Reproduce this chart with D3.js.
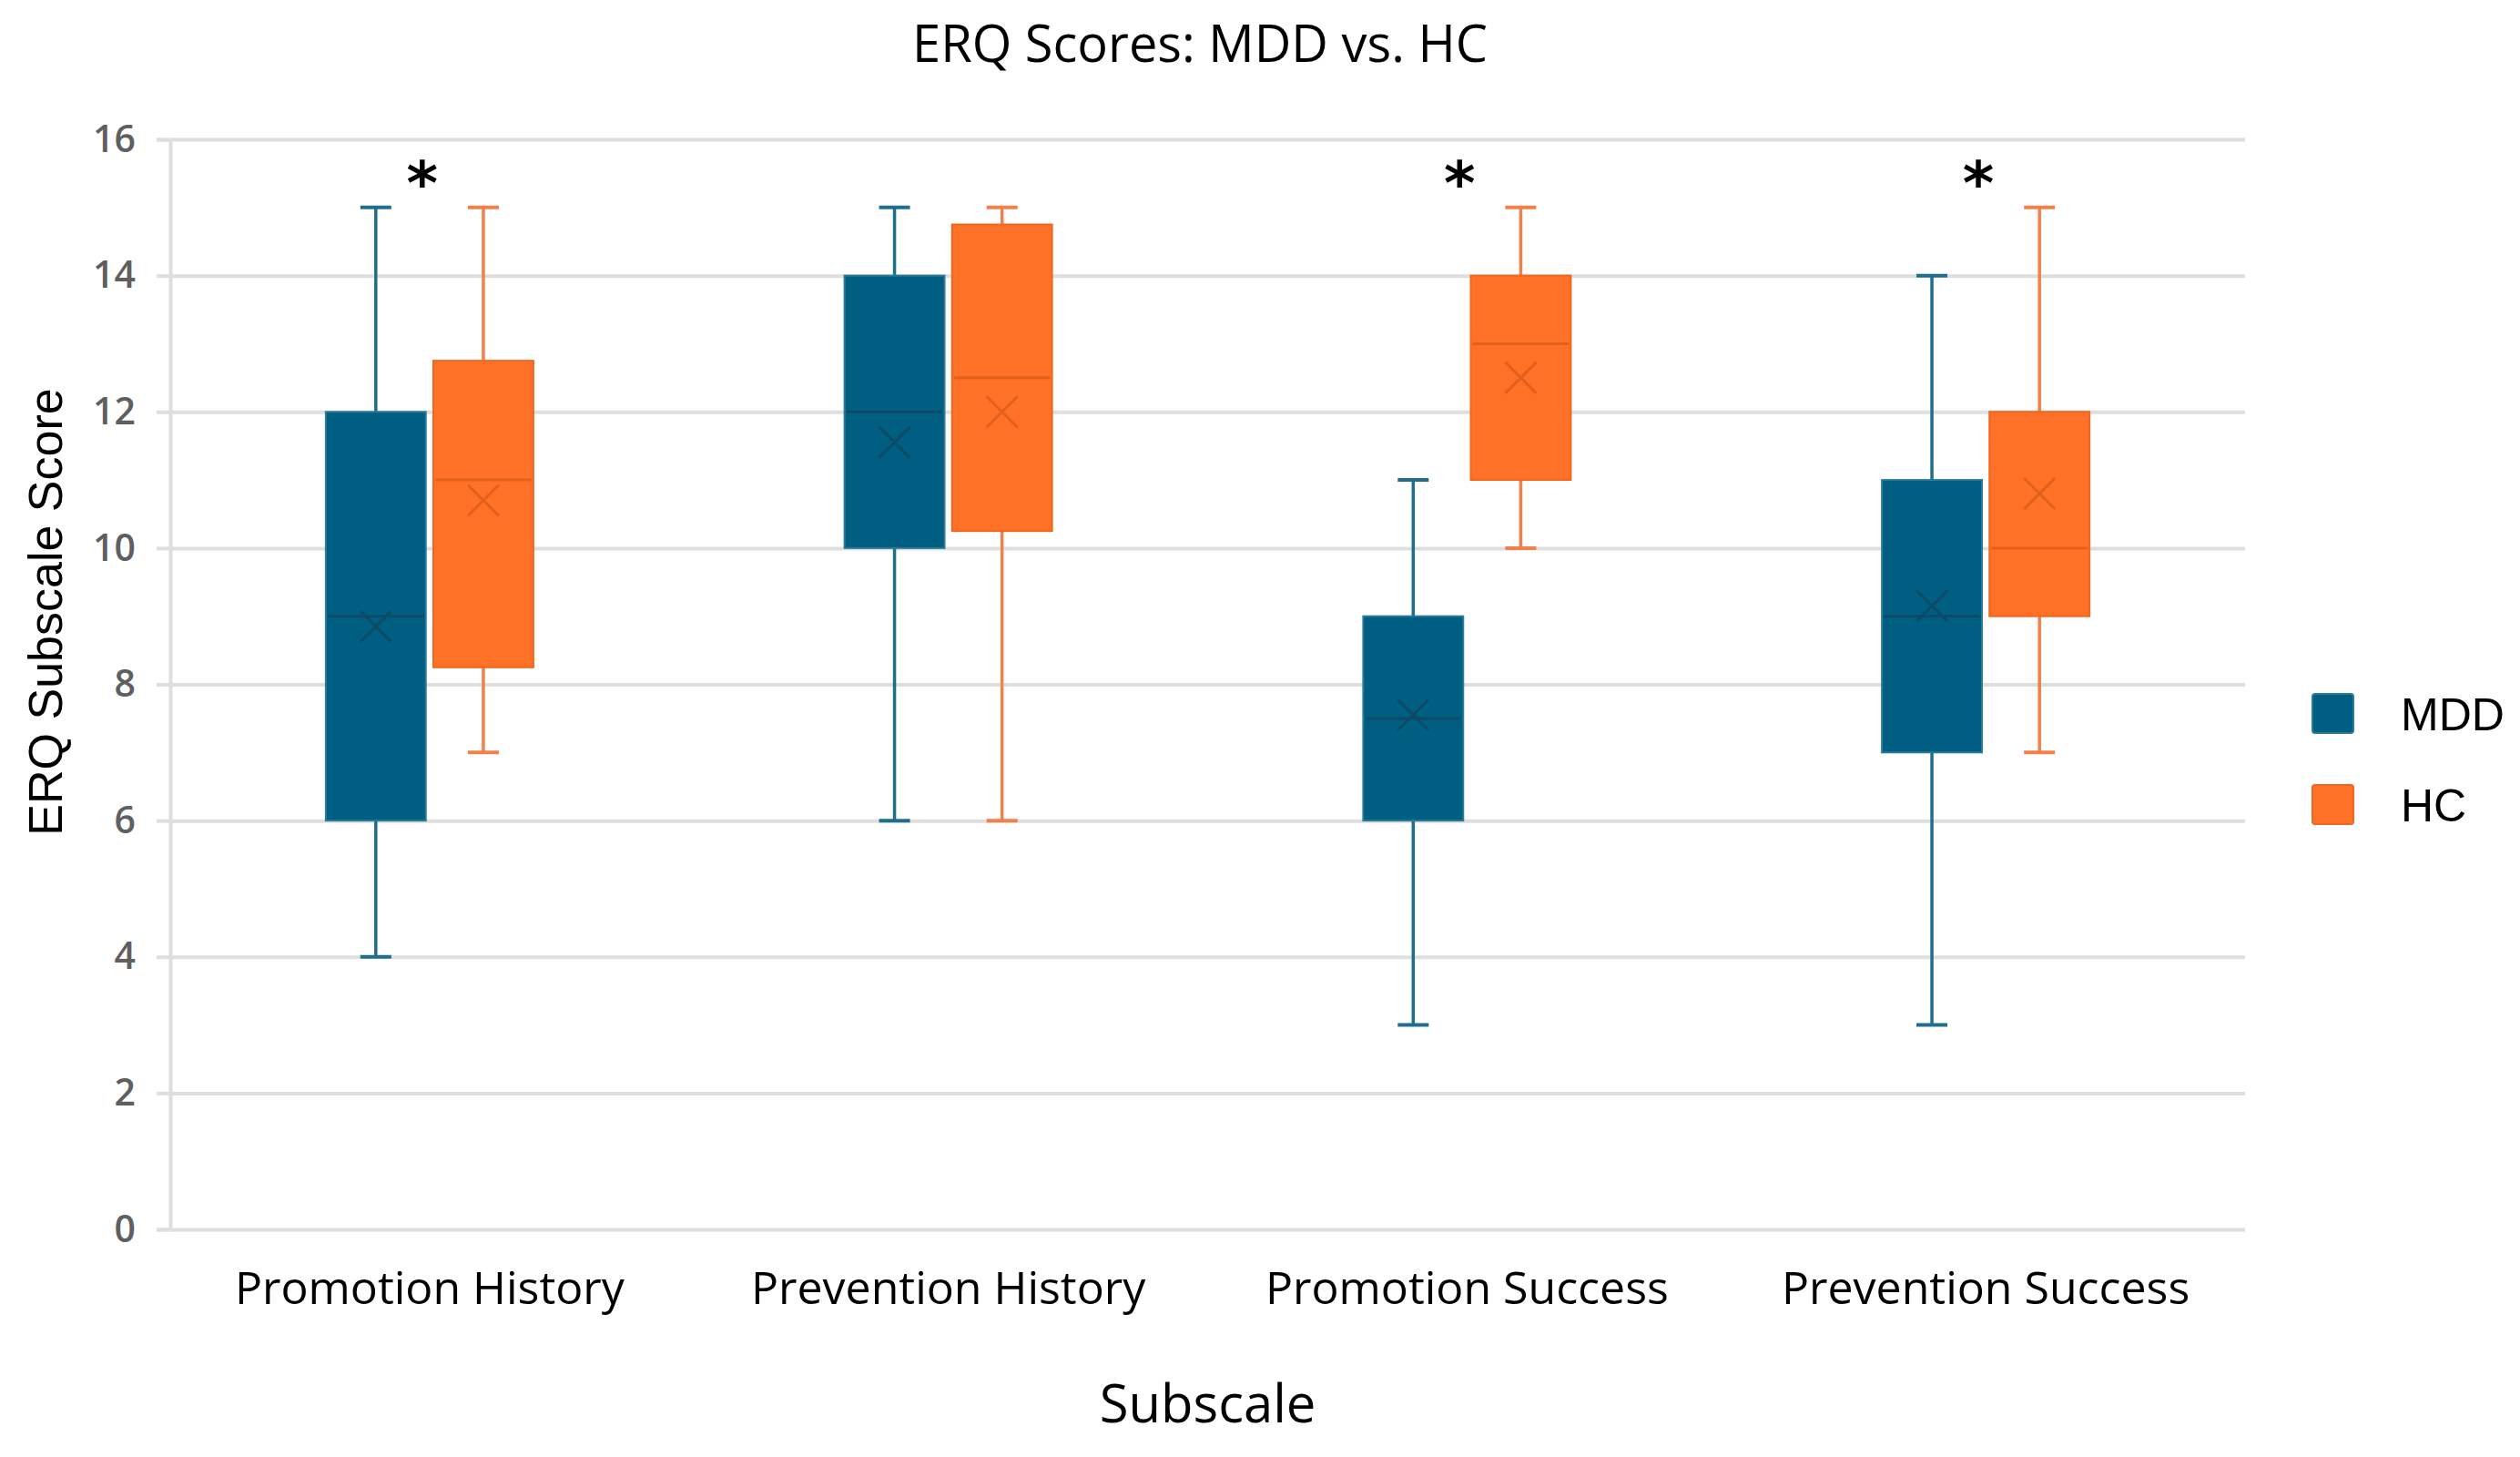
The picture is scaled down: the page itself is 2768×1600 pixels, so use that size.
<!DOCTYPE html>
<html lang="en">
<head>
<meta charset="UTF-8">
<title>ERQ Scores: MDD vs. HC</title>
<script src="https://cdn.jsdelivr.net/npm/d3@7/dist/d3.min.js"></script>
<style>
  body { margin: 0; background: #fff; }
  svg { display: block; }
</style>
</head>
<body>
<svg width="2768" height="1600"></svg>
<script>
// categories and groups
var subscales = ["Promotion History", "Prevention History", "Promotion Success", "Prevention Success"];
var groups = ["MDD", "HC"];

// five-number summaries + mean
var mddMin    = [4, 6, 3, 3];
var mddQ1     = [6, 10, 6, 7];
var mddMedian = [9, 12, 7.5, 9];
var mddQ3     = [12, 14, 9, 11];
var mddMax    = [15, 15, 11, 14];
var mddMean   = [8.85, 11.55, 7.55, 9.15];

var hcMin    = [7, 6, 10, 7];
var hcQ1     = [8.25, 10.25, 11, 9];
var hcMedian = [11, 12.5, 13, 10];
var hcQ3     = [12.75, 14.75, 14, 12];
var hcMax    = [15, 15, 15, 15];
var hcMean   = [10.7, 12, 12.5, 10.8];

var significant = [true, false, true, true];
var yTicks = [0, 2, 4, 6, 8, 10, 12, 14, 16];

// colours
var fill   = {MDD: "#005e82", HC: "#ff7127"};
var dark   = {MDD: "#0b4b66", HC: "#e2601c"};
var whisk  = {MDD: "#1f6e8c", HC: "#f2804a"};
var edge   = {MDD: "#2a7b98", HC: "#f0661f"};

// plot box (note: "top" is reserved on window, so use other names)
var plotLeft = 187, plotRight = 2466, plotTop = 153, plotBottom = 1350;

var svg = d3.select("svg");

// build box rows from the arrays
var boxes = [];
subscales.forEach(function (s, i) {
    boxes.push({cat: s, grp: "MDD", min: mddMin[i], q1: mddQ1[i], med: mddMedian[i], q3: mddQ3[i], max: mddMax[i], mean: mddMean[i]});
    boxes.push({cat: s, grp: "HC", min: hcMin[i], q1: hcQ1[i], med: hcMedian[i], q3: hcQ3[i], max: hcMax[i], mean: hcMean[i]});
});

var x = d3.scaleBand().domain(subscales).range([plotLeft, plotRight]);
var xg = d3.scaleBand().domain(groups).range([-114, 114]).paddingInner(0.07);
var y = d3.scaleLinear().domain([0, 16]).range([plotBottom, plotTop]);

// grid
var grid = svg.append("g")
    .attr("transform", "translate(" + plotLeft + ",0)")
    .call(d3.axisLeft(y).tickValues(yTicks).tickSize(-(plotRight - plotLeft)).tickFormat(""));
grid.select(".domain").remove();
grid.selectAll(".tick line").attr("stroke", "#dedede").attr("stroke-width", 4);

// y axis
var yAxis = svg.append("g")
    .attr("transform", "translate(" + plotLeft + ",0)")
    .call(d3.axisLeft(y).tickValues(yTicks).tickSize(15).tickPadding(23));
yAxis.select(".domain").attr("stroke", "#dedede").attr("stroke-width", 4);
yAxis.selectAll(".tick line").attr("stroke", "#dedede").attr("stroke-width", 4);
yAxis.selectAll("text")
    .attr("fill", "#5f5f5f")
    .style("font-family", "'Open Sans', sans-serif")
    .style("font-weight", "600")
    .style("font-size", "41px");

// x axis
var xAxis = svg.append("g")
    .attr("transform", "translate(0," + plotBottom + ")")
    .call(d3.axisBottom(x).tickSize(0).tickPadding(46));
xAxis.select(".domain").remove();
xAxis.selectAll("text")
    .attr("fill", "#000")
    .style("font-family", "'Open Sans', sans-serif")
    .style("font-size", "50px");

// boxes
var bw = xg.bandwidth();
var gBox = svg.append("g").selectAll("g")
    .data(boxes)
    .enter()
    .append("g")
    .attr("transform", function (d) {
        return "translate(" + (x(d.cat) + x.bandwidth() / 2 + xg(d.grp) + bw / 2) + ",0)";
    });

// whiskers
gBox.append("line")
    .attr("x1", 0).attr("x2", 0)
    .attr("y1", function (d) { return y(d.max); })
    .attr("y2", function (d) { return y(d.min); })
    .attr("stroke", function (d) { return whisk[d.grp]; })
    .attr("stroke-width", 3.5);
gBox.selectAll(".cap")
    .data(function (d) { return [{v: d.max, grp: d.grp}, {v: d.min, grp: d.grp}]; })
    .enter()
    .append("line")
    .attr("x1", -17).attr("x2", 17)
    .attr("y1", function (d) { return y(d.v); })
    .attr("y2", function (d) { return y(d.v); })
    .attr("stroke", function (d) { return whisk[d.grp]; })
    .attr("stroke-width", 4);

// box body
gBox.append("rect")
    .attr("x", -bw / 2)
    .attr("width", bw)
    .attr("y", function (d) { return y(d.q3); })
    .attr("height", function (d) { return y(d.q1) - y(d.q3); })
    .attr("fill", function (d) { return fill[d.grp]; })
    .attr("stroke", function (d) { return edge[d.grp]; })
    .attr("stroke-width", 2);

// median
gBox.append("line")
    .attr("x1", -bw / 2 + 2).attr("x2", bw / 2 - 2)
    .attr("y1", function (d) { return y(d.med); })
    .attr("y2", function (d) { return y(d.med); })
    .attr("stroke", function (d) { return dark[d.grp]; })
    .attr("stroke-width", 3);

// mean marker (x)
gBox.append("path")
    .attr("transform", function (d) { return "translate(0," + y(d.mean) + ")"; })
    .attr("d", "M-17,-17L17,17M-17,17L17,-17")
    .attr("stroke", function (d) { return dark[d.grp]; })
    .attr("stroke-width", 3)
    .attr("fill", "none");

// significance stars
svg.append("g").selectAll("text")
    .data(subscales.filter(function (s, i) { return significant[i]; }))
    .enter()
    .append("text")
    .attr("x", function (d) { return x(d) + x.bandwidth() / 2 - 8; })
    .attr("y", y(15.05))
    .attr("text-anchor", "middle")
    .style("font-family", "'DejaVu Sans', sans-serif")
    .style("font-weight", "bold")
    .style("font-size", "66px")
    .text("*");

// title
svg.append("text")
    .attr("x", 1318).attr("y", 68)
    .attr("text-anchor", "middle")
    .style("font-family", "'Open Sans', sans-serif")
    .style("font-size", "56px")
    .text("ERQ Scores: MDD vs. HC");

// axis titles
svg.append("text")
    .attr("x", (plotLeft + plotRight) / 2).attr("y", 1562)
    .attr("text-anchor", "middle")
    .style("font-family", "'Open Sans', sans-serif")
    .style("font-size", "58px")
    .text("Subscale");

svg.append("text")
    .attr("transform", "translate(68,672) rotate(-90)")
    .attr("text-anchor", "middle")
    .style("font-family", "'Liberation Sans', Arial, sans-serif")
    .style("font-size", "52px")
    .text("ERQ Subscale Score");

// legend
var legend = svg.append("g").selectAll("g")
    .data(groups)
    .enter()
    .append("g")
    .attr("transform", function (d, i) { return "translate(2540," + (762 + i * 100) + ")"; });
legend.append("rect")
    .attr("width", 45).attr("height", 43).attr("rx", 3)
    .attr("fill", function (d) { return fill[d]; })
    .attr("stroke", function (d) { return edge[d]; })
    .attr("stroke-width", 2);
legend.append("text")
    .attr("x", 97).attr("y", 40)
    .style("font-family", "'Liberation Sans', Arial, sans-serif")
    .style("font-size", "50px")
    .text(function (d) { return d; });
</script>
</body>
</html>
